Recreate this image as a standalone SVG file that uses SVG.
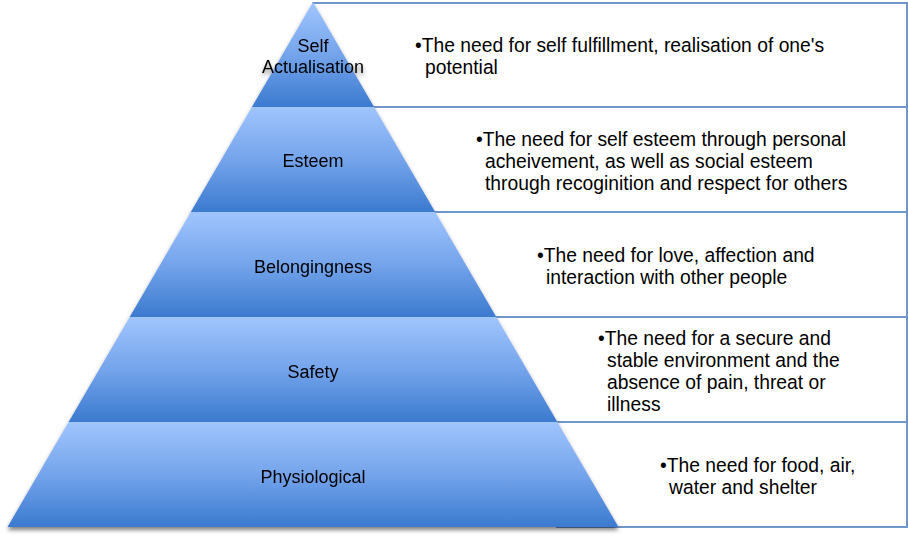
<svg xmlns="http://www.w3.org/2000/svg" width="908" height="539" viewBox="0 0 908 539">
<defs>
<linearGradient id="lay" x1="0" y1="0" x2="0" y2="1">
<stop offset="0" stop-color="#a0c5fd"/>
<stop offset="0.5" stop-color="#74a4eb"/>
<stop offset="1" stop-color="#3b7acf"/>
</linearGradient>
<filter id="sh" x="-10%" y="-10%" width="120%" height="120%">
<feDropShadow dx="0" dy="3" stdDeviation="2" flood-color="#000" flood-opacity="0.5"/>
</filter>
</defs>
<style>
.box{fill:#fff;stroke:#7196cb;stroke-width:2}
.layer{fill:url(#lay)}
.lbl{font-family:"Liberation Sans",Arial,sans-serif;font-size:18px;fill:#000;text-anchor:middle}
.txt{font-family:"Liberation Sans",Arial,sans-serif;font-size:19.3px;fill:#000}
</style>
<rect width="908" height="539" fill="#fff"/>
<g id="box1"><rect class="box" x="313" y="3" width="594" height="104"/>
<text class="txt" x="415" y="52">•The need for self fulfillment, realisation of one's</text>
<text class="txt" x="425" y="74">potential</text></g>
<g id="box2"><rect class="box" x="374" y="107" width="533" height="105"/>
<text class="txt" x="476" y="146">•The need for self esteem through personal</text>
<text class="txt" x="485" y="168">acheivement, as well as social esteem</text>
<text class="txt" x="485" y="190">through recoginition and respect for others</text></g>
<g id="box3"><rect class="box" x="435" y="212" width="472" height="105"/>
<text class="txt" x="537" y="262">•The need for love, affection and</text>
<text class="txt" x="546" y="284">interaction with other people</text></g>
<g id="box4"><rect class="box" x="496" y="317" width="411" height="105"/>
<text class="txt" x="598" y="345">•The need for a secure and</text>
<text class="txt" x="607" y="367">stable environment and the</text>
<text class="txt" x="607" y="389">absence of pain, threat or</text>
<text class="txt" x="607" y="411">illness</text></g>
<g id="box5"><rect class="box" x="557" y="422" width="350" height="105"/>
<text class="txt" x="660" y="472">•The need for food, air,</text>
<text class="txt" x="669" y="494">water and shelter</text></g>
<g id="pyramid" filter="url(#sh)">
<g id="self-actualisation"><polygon class="layer" points="313,2 374.1,107 251.9,107"/>
<text class="lbl" x="313" y="52">Self</text><text class="lbl" x="313" y="73">Actualisation</text></g>
<g id="esteem"><polygon class="layer" points="251.9,107 374.1,107 435.2,212 190.8,212"/>
<text class="lbl" x="313" y="167">Esteem</text></g>
<g id="belongingness"><polygon class="layer" points="190.8,212 435.2,212 496.3,317 129.7,317"/>
<text class="lbl" x="313" y="273">Belongingness</text></g>
<g id="safety"><polygon class="layer" points="129.7,317 496.3,317 557.4,422 68.6,422"/>
<text class="lbl" x="313" y="378">Safety</text></g>
<g id="physiological"><polygon class="layer" points="68.6,422 557.4,422 618.5,527 7.5,527"/>
<text class="lbl" x="313" y="483">Physiological</text></g>
</g>
</svg>
